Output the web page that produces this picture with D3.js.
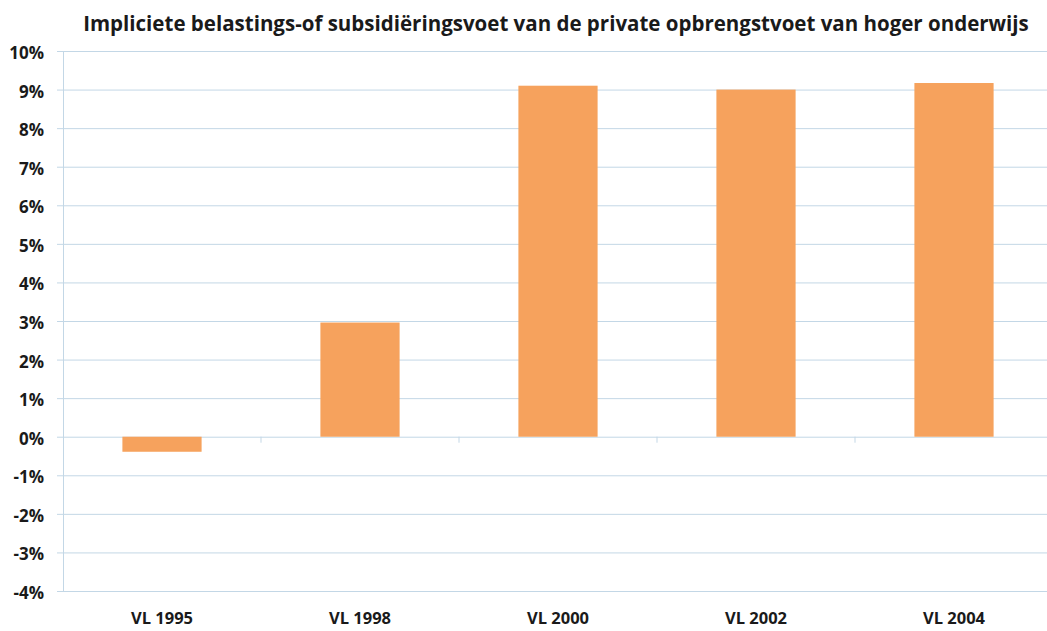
<!DOCTYPE html>
<html>
<head>
<meta charset="utf-8">
<script src="https://cdn.jsdelivr.net/npm/d3@7"></script>
<style>
  body { margin: 0; background: #fff; }
  text { font-family: "Open Sans", "DejaVu Sans", sans-serif; font-weight: bold; fill: #1a1a1a; }
</style>
</head>
<body>
<svg id="chart" width="1047" height="631"></svg>
<script>
var categories = ["VL 1995", "VL 1998", "VL 2000", "VL 2002", "VL 2004"];
var values = [-0.39, 2.96, 9.10, 9.00, 9.17];
var yTicks = [-4, -3, -2, -1, 0, 1, 2, 3, 4, 5, 6, 7, 8, 9, 10];
var title = "Impliciete belastings-of subsidiëringsvoet van de private opbrengstvoet van hoger onderwijs";

var svg = d3.select("#chart");
var gridColor = "#c3d7e6";

var x = d3.scaleBand()
  .domain(categories)
  .range([63, 1053])
  .paddingInner(0.6)
  .paddingOuter(0.3);

var y = d3.scaleLinear()
  .domain([-4, 10])
  .range([591, 51]);

// gridlines
svg.append("g")
  .selectAll("line")
  .data(yTicks)
  .enter()
  .append("line")
  .attr("x1", 57)
  .attr("x2", 1047)
  .attr("y1", function(d) { return y(d) + 0.5; })
  .attr("y2", function(d) { return y(d) + 0.5; })
  .attr("stroke", gridColor)
  .attr("stroke-width", 1);

// y axis line
svg.append("line")
  .attr("x1", 63.5).attr("x2", 63.5)
  .attr("y1", y(10)).attr("y2", y(-4))
  .attr("stroke", gridColor);

// category ticks on the zero line
svg.append("g")
  .selectAll("line")
  .data(categories.slice(1))
  .enter()
  .append("line")
  .attr("x1", function(d) { return x(d) - (x.step() - x.bandwidth()) / 2; })
  .attr("x2", function(d) { return x(d) - (x.step() - x.bandwidth()) / 2; })
  .attr("y1", y(0))
  .attr("y2", y(0) + 6)
  .attr("stroke", gridColor);

// bars
svg.append("g")
  .selectAll("rect")
  .data(values)
  .enter()
  .append("rect")
  .attr("x", function(d, i) { return x(categories[i]); })
  .attr("width", x.bandwidth())
  .attr("y", function(d) { return y(Math.max(0, d)); })
  .attr("height", function(d) { return Math.abs(y(d) - y(0)); })
  .attr("fill", "#f6a25d");

// y tick labels
svg.append("g")
  .selectAll("text")
  .data(yTicks)
  .enter()
  .append("text")
  .attr("x", 44)
  .attr("y", function(d) { return y(d) + 2; })
  .attr("dy", "0.35em")
  .attr("text-anchor", "end")
  .style("font-size", "17px")
  .text(function(d) { return d + "%"; });

// category labels
svg.append("g")
  .selectAll("text")
  .data(categories)
  .enter()
  .append("text")
  .attr("x", function(d) { return x(d) + x.bandwidth() / 2; })
  .attr("y", 624)
  .attr("text-anchor", "middle")
  .style("font-size", "16.5px")
  .text(function(d) { return d; });

// title
svg.append("text")
  .attr("x", 556)
  .attr("y", 31)
  .attr("text-anchor", "middle")
  .style("font-size", "20.5px")
  .text(title);
</script>
</body>
</html>
